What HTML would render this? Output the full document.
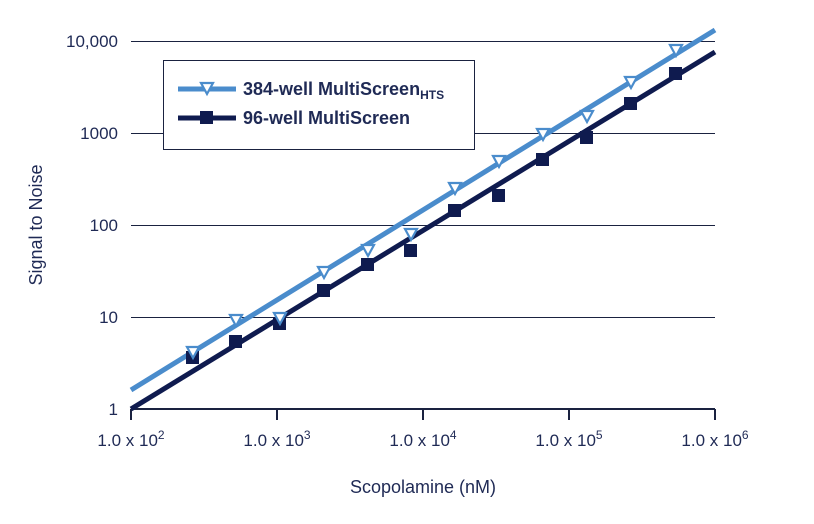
<!DOCTYPE html>
<html><head><style>body{margin:0;background:#fff}svg{display:block}</style></head><body>
<svg width="814" height="524" xmlns="http://www.w3.org/2000/svg" font-family="Liberation Sans, sans-serif">
<g stroke="#1a2240" stroke-width="1">
<line x1="131" y1="41.5" x2="715" y2="41.5"/><line x1="131" y1="133.5" x2="715" y2="133.5"/>
<line x1="131" y1="225.5" x2="715" y2="225.5"/><line x1="131" y1="317.5" x2="715" y2="317.5"/>
</g>
<g stroke="#1a2240" stroke-width="2">
<line x1="131" y1="409" x2="715" y2="409"/>
<line x1="131" y1="409" x2="131" y2="420"/><line x1="277" y1="409" x2="277" y2="420"/>
<line x1="423" y1="409" x2="423" y2="420"/><line x1="569" y1="409" x2="569" y2="420"/>
<line x1="715" y1="409" x2="715" y2="420"/>
</g>
<g fill="#1f2a55" font-size="17" text-anchor="end">
<text x="118" y="47">10,000</text><text x="118" y="139">1000</text><text x="118" y="231">100</text>
<text x="118" y="323">10</text><text x="118" y="415">1</text>
</g>
<g fill="#1f2a55" font-size="17" text-anchor="middle">
<text x="131" y="446">1.0 x 10<tspan font-size="12" dy="-7">2</tspan></text>
<text x="277" y="446">1.0 x 10<tspan font-size="12" dy="-7">3</tspan></text>
<text x="423" y="446">1.0 x 10<tspan font-size="12" dy="-7">4</tspan></text>
<text x="569" y="446">1.0 x 10<tspan font-size="12" dy="-7">5</tspan></text>
<text x="715" y="446">1.0 x 10<tspan font-size="12" dy="-7">6</tspan></text>
<text x="423" y="493" font-size="18">Scopolamine (nM)</text>
<text transform="translate(42,225) rotate(-90)" font-size="18">Signal to Noise</text>
</g>
<line x1="131" y1="390" x2="715" y2="30" stroke="#4a8ccc" stroke-width="5"/>
<line x1="131" y1="409" x2="715" y2="52" stroke="#0f1b4f" stroke-width="5"/>
<g fill="#0f1b4f">
<rect x="186" y="351" width="13" height="13"/><rect x="229" y="335" width="13" height="13"/>
<rect x="273" y="317" width="13" height="13"/><rect x="317" y="284" width="13" height="13"/>
<rect x="361" y="258" width="13" height="13"/><rect x="404" y="244" width="13" height="13"/>
<rect x="448" y="204" width="13" height="13"/><rect x="492" y="189" width="13" height="13"/>
<rect x="536" y="153" width="13" height="13"/><rect x="580" y="131" width="13" height="13"/>
<rect x="624" y="97" width="13" height="13"/><rect x="669" y="67" width="13" height="13"/>
</g>
<g fill="#fff" stroke="#4a8ccc" stroke-width="2.2">
<path d="M187,347 h12 l-6,11 z"/><path d="M230,315 h12 l-6,11 z"/><path d="M274,313 h12 l-6,11 z"/>
<path d="M318,267 h12 l-6,11 z"/><path d="M362,245 h12 l-6,11 z"/><path d="M405,229 h12 l-6,11 z"/>
<path d="M449,183 h12 l-6,11 z"/><path d="M493,156 h12 l-6,11 z"/><path d="M537,129 h12 l-6,11 z"/>
<path d="M581,111 h12 l-6,11 z"/><path d="M625,77 h12 l-6,11 z"/><path d="M670,45 h12 l-6,11 z"/>
</g>
<rect x="163.5" y="60.5" width="311" height="89" fill="#fff" stroke="#1a2240" stroke-width="1"/>
<line x1="178" y1="89" x2="236" y2="89" stroke="#4a8ccc" stroke-width="5"/>
<path d="M201,83 h12 l-6,11 z" fill="#fff" stroke="#4a8ccc" stroke-width="2.2"/>
<line x1="178" y1="118" x2="236" y2="118" stroke="#0f1b4f" stroke-width="5"/>
<rect x="200" y="111" width="13" height="13" fill="#0f1b4f"/>
<g fill="#1f2a55" font-size="18" font-weight="bold">
<text x="243" y="95">384-well MultiScreen<tspan font-size="12" dy="4">HTS</tspan></text>
<text x="243" y="124">96-well MultiScreen</text>
</g>
</svg>
</body></html>
